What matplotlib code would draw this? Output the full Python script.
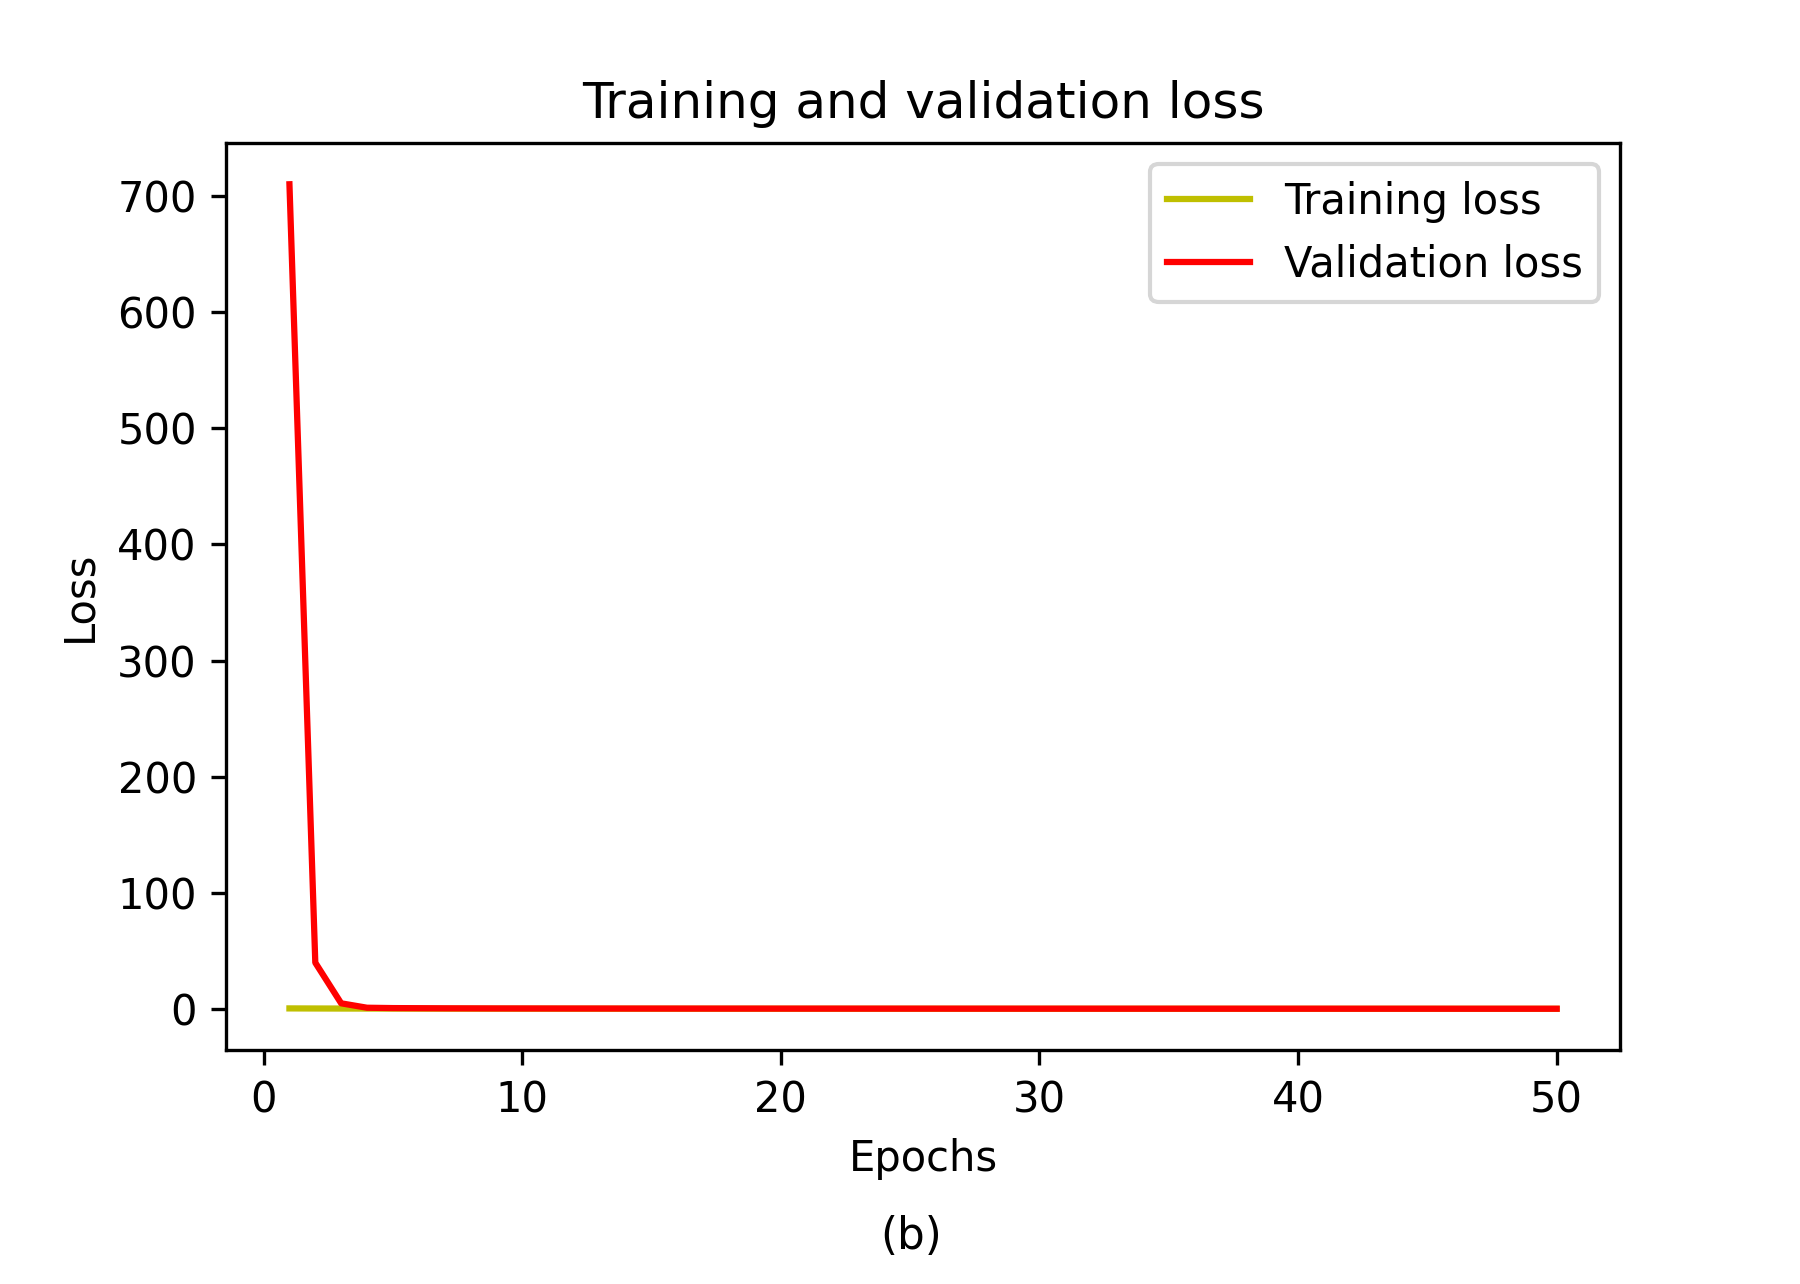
import matplotlib
matplotlib.use('Agg')
import matplotlib.pyplot as plt

# epochs 1..50
epochs = list(range(1, 51))

# training loss stays near zero the whole run
train_loss = [0.62, 0.55, 0.50, 0.47, 0.45, 0.43, 0.42, 0.41, 0.40, 0.39,
              0.38, 0.37, 0.37, 0.36, 0.36, 0.35, 0.35, 0.34, 0.34, 0.33,
              0.33, 0.33, 0.32, 0.32, 0.32, 0.31, 0.31, 0.31, 0.30, 0.30,
              0.30, 0.30, 0.29, 0.29, 0.29, 0.29, 0.28, 0.28, 0.28, 0.28,
              0.28, 0.27, 0.27, 0.27, 0.27, 0.27, 0.26, 0.26, 0.26, 0.26]

# validation loss: huge first epoch, then collapses
val_loss = [710.0, 40.0, 5.0, 1.2, 0.9, 0.8, 0.7, 0.65, 0.6, 0.58,
            0.55, 0.53, 0.52, 0.5, 0.49, 0.48, 0.47, 0.46, 0.46, 0.45,
            0.44, 0.44, 0.43, 0.43, 0.42, 0.42, 0.41, 0.41, 0.4, 0.4,
            0.4, 0.39, 0.39, 0.39, 0.38, 0.38, 0.38, 0.37, 0.37, 0.37,
            0.37, 0.36, 0.36, 0.36, 0.36, 0.35, 0.35, 0.35, 0.35, 0.35]

fig = plt.figure(figsize=(6.0, 4.28), dpi=300)
ax = fig.add_axes([0.1256, 0.1822, 0.7744, 0.7064])

ax.plot(epochs, train_loss, 'y', label='Training loss')
ax.plot(epochs, val_loss, 'r', label='Validation loss')
ax.set_title('Training and validation loss')
ax.set_xlabel('Epochs')
ax.set_ylabel('Loss')
ax.legend()

fig.text(0.506, 0.037, '(b)', ha='center', va='center', fontsize=10.5)

fig.savefig('out.png', dpi=300)
